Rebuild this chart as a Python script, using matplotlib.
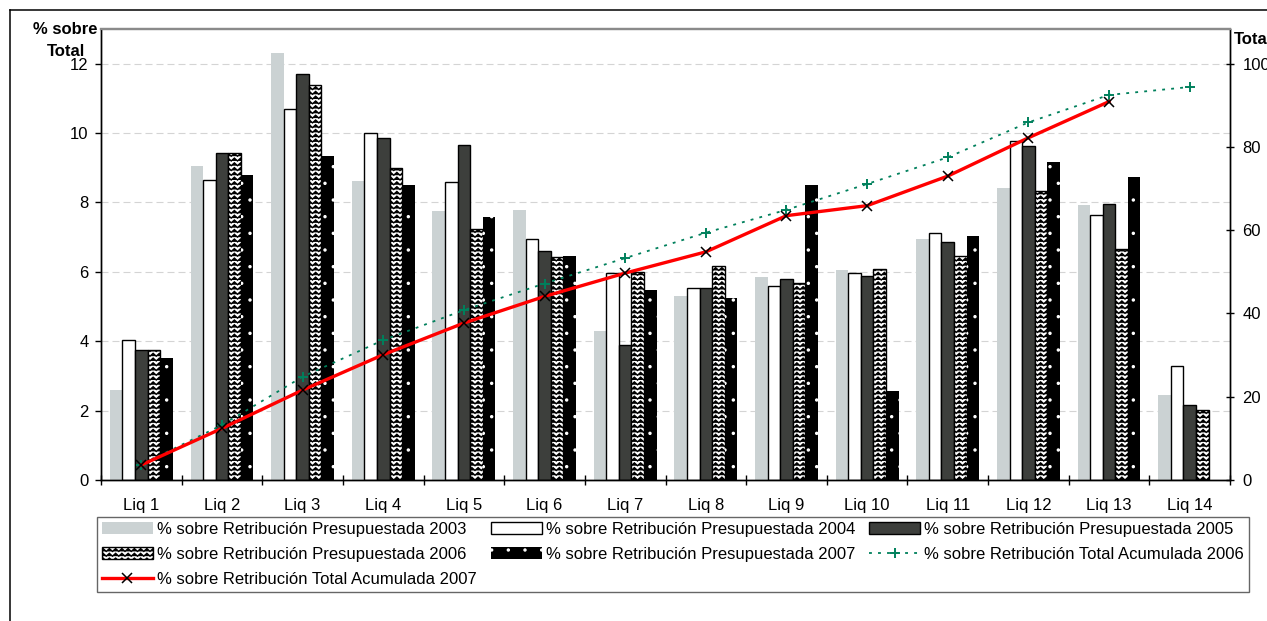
import numpy as np
import matplotlib
matplotlib.use('Agg')
import matplotlib.pyplot as plt
import matplotlib.hatch as mhatch
from matplotlib.path import Path
from matplotlib.lines import Line2D

# ---------------- data ----------------
categories = ['Liq 1', 'Liq 2', 'Liq 3', 'Liq 4', 'Liq 5', 'Liq 6', 'Liq 7',
              'Liq 8', 'Liq 9', 'Liq 10', 'Liq 11', 'Liq 12', 'Liq 13', 'Liq 14']
pct_2003 = [2.59, 9.04, 12.30, 8.63, 7.74, 7.77, 4.30, 5.30, 5.85, 6.04, 6.96, 8.41, 7.92, 2.46]
pct_2004 = [4.04, 8.66, 10.69, 9.99, 8.58, 6.94, 5.98, 5.52, 5.58, 5.96, 7.12, 9.76, 7.65, 3.29]
pct_2005 = [3.74, 9.43, 11.70, 9.87, 9.66, 6.59, 3.88, 5.52, 5.78, 5.87, 6.86, 9.64, 7.96, 2.17]
pct_2006 = [3.74, 9.43, 11.40, 8.98, 7.24, 6.44, 5.99, 6.18, 5.67, 6.07, 6.45, 8.34, 6.65, 2.01]
pct_2007 = [3.52, 8.79, 9.34, 8.50, 7.57, 6.47, 5.49, 5.26, 8.51, 2.56, 7.03, 9.18, 8.72, np.nan]
acum_2006 = [3.7, 13.2, 24.8, 33.6, 40.8, 47.2, 53.3, 59.4, 64.9, 71.1, 77.5, 85.9, 92.5, 94.4]
acum_2007 = [3.6, 12.4, 21.6, 30.1, 37.7, 44.1, 49.7, 54.8, 63.5, 65.9, 73.0, 82.2, 90.9, np.nan]

left_ticks = [0, 2, 4, 6, 8, 10, 12]
right_ticks = [0, 20, 40, 60, 80, 100]

labels = ['% sobre Retribución Presupuestada 2003',
          '% sobre Retribución Presupuestada 2004',
          '% sobre Retribución Presupuestada 2005',
          '% sobre Retribución Presupuestada 2006',
          '% sobre Retribución Presupuestada 2007',
          '% sobre Retribución Total Acumulada 2006',
          '% sobre Retribución Total Acumulada 2007']


# ---------------- custom hatches ----------------
class ZigZagHatch(mhatch.HatchPatternBase):
    """Chevron rows, used in place of the '-' hatch."""
    def __init__(self, hatch, density):
        self.num_rows = hatch.count('-') * 21
        self.periods = 16
        self.pts = 2 * self.periods + 1
        self.num_vertices = self.num_rows * self.pts

    def set_vertices_and_codes(self, vertices, codes):
        if self.num_rows == 0:
            return
        xs = np.linspace(0.0, 1.0, self.pts)
        amp = 0.6 / self.num_rows
        off = np.where(np.arange(self.pts) % 2 == 0, 0.0, amp)
        for r in range(self.num_rows):
            y0 = (r + 0.2) / self.num_rows
            s = slice(r * self.pts, (r + 1) * self.pts)
            vertices[s, 0] = xs
            vertices[s, 1] = y0 + off
            codes[s] = Path.LINETO
            codes[r * self.pts] = Path.MOVETO


class SparseDots(mhatch.Circles):
    """Small dots, used in place of the '.' hatch."""
    size = 0.06
    filled = True

    def __init__(self, hatch, density):
        self.num_rows = hatch.count('.') * 6
        mhatch.Circles.__init__(self, hatch, density)


_new_types = []
for t in mhatch._hatch_types:
    if t is mhatch.HorizontalHatch:
        _new_types.append(ZigZagHatch)
    elif t is mhatch.SmallFilledCircles:
        _new_types.append(SparseDots)
    else:
        _new_types.append(t)
mhatch._hatch_types = _new_types

plt.rcParams['font.family'] = ['Liberation Sans', 'DejaVu Sans']
plt.rcParams['hatch.linewidth'] = 1.0
FS = 12

fig = plt.figure(figsize=(12.67, 6.21), dpi=100)
W, H = 1267, 621
ax = fig.add_axes([101 / W, 1 - 480 / H, (1230 - 101) / W, (480 - 29) / H])
ax2 = ax.twinx()

x = np.arange(len(categories))
w = 0.156

c2003 = '#cbd2d3'
c2005 = '#3d3f3c'

b1 = ax.bar(x - 2 * w, pct_2003, w, color=c2003, edgecolor='none', linewidth=0, zorder=2)
b2 = ax.bar(x - 1 * w, pct_2004, w, color='white', edgecolor='black', linewidth=1.0, zorder=2)
b3 = ax.bar(x + 0 * w, pct_2005, w, color=c2005, edgecolor='black', linewidth=1.0, zorder=2)
b4 = ax.bar(x + 1 * w, pct_2006, w, color='white', edgecolor='black', linewidth=1.0,
            hatch='-', zorder=2)
b5 = ax.bar(x + 2 * w, pct_2007, w, color='black', edgecolor='white', linewidth=0,
            hatch='.', zorder=2)

green = '#00805c'
l6, = ax2.plot(x, acum_2006, color=green, linewidth=1.3, dashes=(1.6, 3.4),
               marker='+', markersize=7, markeredgewidth=1.4, markeredgecolor=green, zorder=3)
l7, = ax2.plot(x, acum_2007, color='red', linewidth=2.4, marker='x', markersize=7,
               markeredgewidth=1.1, markeredgecolor='black', zorder=4)

ax.set_xlim(-0.5, len(categories) - 0.5)
ax.set_ylim(0, 13)
ax2.set_ylim(0, 13 * 100 / 12)

ax.set_yticks(left_ticks)
ax2.set_yticks(right_ticks)
ax.set_xticks(x)
ax.set_xticklabels(categories)
ax.set_xticks(np.arange(len(categories) + 1) - 0.5, minor=True)

ax.tick_params(axis='x', which='major', length=0, labelsize=FS, pad=13)
ax.tick_params(axis='x', which='minor', length=7, width=1, direction='inout', color='black')
ax.tick_params(axis='y', which='major', length=4, width=1, direction='out', labelsize=FS, pad=5)
ax2.tick_params(axis='y', which='major', length=6, width=1, direction='inout', labelsize=FS, pad=6)

ax.grid(axis='y', color='#d4d4d4', linewidth=0.8, dashes=(6.3, 3.6), zorder=0)
ax.set_axisbelow(True)

for a in (ax, ax2):
    a.spines['top'].set_color('#8a8a8a')
    a.spines['top'].set_linewidth(1.6)
    a.spines['left'].set_color('black')
    a.spines['right'].set_color('black')
    a.spines['bottom'].set_color('black')
    for s in ('left', 'right', 'bottom'):
        a.spines[s].set_linewidth(1.0)

# axis titles
fig.text(65 / W, 1 - 30 / H, '% sobre', ha='center', va='center', fontsize=12, fontweight='bold')
fig.text(66 / W, 1 - 52 / H, 'Total', ha='center', va='center', fontsize=12, fontweight='bold')
fig.text(1234 / W, 1 - 39 / H, 'Total', ha='left', va='center', fontsize=12, fontweight='bold')

# outer frame
fig.add_artist(Line2D([10 / W, 10 / W], [0, 1 - 10 / H], color='black', linewidth=1.1,
                      transform=fig.transFigure))
fig.add_artist(Line2D([10 / W, 1], [1 - 10 / H, 1 - 10 / H], color='black', linewidth=1.1,
                      transform=fig.transFigure))

# legend (row-major order in 3 columns)
h = [b1, b2, b3, b4, b5, l6, l7]
order = [0, 3, 6, 1, 4, 2, 5]
leg = fig.legend([h[i] for i in order], [labels[i] for i in order],
                 loc='upper left',
                 bbox_to_anchor=(97 / W, 1 - 592 / H, (1249 - 97) / W, (592 - 517) / H),
                 mode='expand', ncol=3, fontsize=FS, frameon=True, fancybox=False,
                 shadow=False, borderpad=0.3, labelspacing=0.6, handlelength=3.05,
                 handleheight=0.7, handletextpad=0.25, columnspacing=0.8,
                 borderaxespad=0.0)
leg.get_frame().set_edgecolor('#404040')
leg.get_frame().set_linewidth(1.0)

fig.savefig('out.png', dpi=100)
